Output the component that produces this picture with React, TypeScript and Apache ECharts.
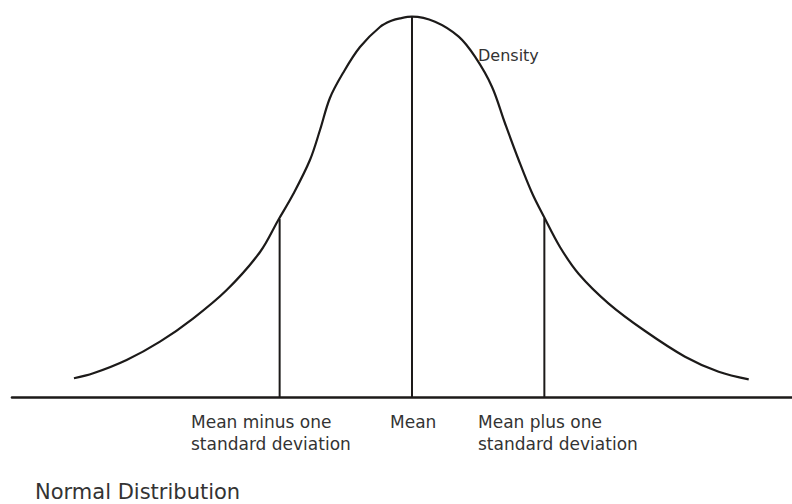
import React, { useEffect, useRef } from "react";
import * as echarts from "echarts";

// x in standard deviations from the mean, y = density (peak ≈ 0.4)
const curveX = [
  -2.554, -2.408, -2.156, -1.904, -1.652, -1.4, -1.148, -1.01, -0.897, -0.771,
  -0.695, -0.62, -0.521, -0.393, -0.242, -0.151, -0.091, 0.0,
  0.174, 0.353, 0.476, 0.604, 0.702, 0.806, 0.907, 0.997, 1.118, 1.26,
  1.486, 1.761, 2.063, 2.317, 2.544,
];
const curveY = [
  0.0197, 0.0249, 0.0389, 0.0582, 0.0828, 0.1125, 0.1525, 0.1862, 0.2135, 0.2493,
  0.2808, 0.3145, 0.3408, 0.3681, 0.3892, 0.396, 0.3983, 0.4,
  0.3947, 0.379, 0.3579, 0.3264, 0.2882, 0.2493, 0.2146, 0.1896, 0.1578, 0.1294,
  0.0983, 0.0694, 0.0424, 0.0266, 0.0186,
];

// vertical reference lines: mean - 1 sd, mean, mean + 1 sd
const markX = [-1, 0, 1];
const markTop = [0.1872, 0.4, 0.188];

const labelMinus = "Mean minus one\nstandard deviation";
const labelMean = "Mean";
const labelPlus = "Mean plus one\nstandard deviation";
const labelDensity = "Density";
const titleText = "Normal Distribution";

const INK = "#1c1a19";
const TEXT = "#333333";
const FONT = "'DejaVu Sans', sans-serif";

export default function App() {
  const ref = useRef<HTMLDivElement>(null);

  useEffect(() => {
    if (!ref.current) return;
    const chart = echarts.init(ref.current, undefined, { renderer: "svg" });

    const curve = curveX.map((x, i) => [x, curveY[i]]);
    const markSeries = markX.map((x, i) => ({
      type: "line",
      data: [
        [x, 0],
        [x, markTop[i]],
      ],
      symbol: "none",
      silent: true,
      lineStyle: { color: INK, width: 2 },
      z: 3,
    }));

    const textStyle = (text: string, size: number) => ({
      text,
      fill: TEXT,
      font: `${size}px ${FONT}`,
      fontSize: size,
      fontFamily: FONT,
    });

    chart.setOption({
      animation: false,
      backgroundColor: "#ffffff",
      grid: { left: 12, right: 0, top: 7.2, bottom: 107 },
      xAxis: {
        type: "value",
        min: -3.022,
        max: 2.871,
        axisLine: { show: true, lineStyle: { color: INK, width: 2.6 } },
        axisTick: { show: false },
        axisLabel: { show: false },
        splitLine: { show: false },
      },
      yAxis: {
        type: "value",
        min: 0,
        max: 0.41,
        show: false,
      },
      series: [
        {
          type: "line",
          data: curve,
          smooth: 0.35,
          symbol: "none",
          silent: true,
          lineStyle: { color: INK, width: 2.2 },
          z: 4,
        },
        ...markSeries,
      ],
      graphic: [
        {
          type: "text",
          x: 191,
          y: 410.5,
          style: { ...textStyle(labelMinus, 17), lineHeight: 22, verticalAlign: "top" },
        },
        {
          type: "text",
          x: 390,
          y: 410.5,
          style: { ...textStyle(labelMean, 17), lineHeight: 22, verticalAlign: "top" },
        },
        {
          type: "text",
          x: 478,
          y: 410.5,
          style: { ...textStyle(labelPlus, 17), lineHeight: 22, verticalAlign: "top" },
        },
        {
          type: "text",
          x: 478,
          y: 55.5,
          style: { ...textStyle(labelDensity, 16), verticalAlign: "middle" },
        },
        {
          type: "text",
          x: 35,
          y: 492,
          style: { ...textStyle(titleText, 21), lineHeight: 21, verticalAlign: "middle" },
        },
      ],
    });

    return () => chart.dispose();
  }, []);

  return (
    <div
      ref={ref}
      style={{ position: "fixed", left: 0, top: 0, width: 792, height: 504 }}
    />
  );
}
